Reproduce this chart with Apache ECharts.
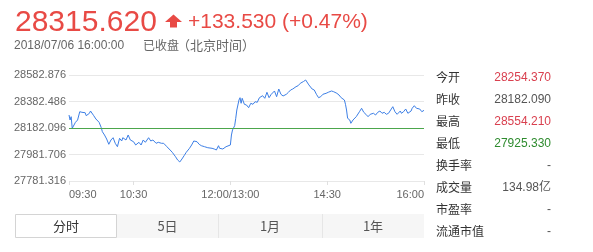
<!DOCTYPE html>
<html>
<head>
<meta charset="utf-8">
<script src="https://cdn.jsdelivr.net/npm/echarts@6/dist/echarts.min.js"></script>
<style>
html,body{margin:0;padding:0;background:#fff;}
#chart{width:593px;height:252px;}
</style>
</head>
<body>
<div id="chart"></div>
<script>
// ---- data ----
const times = ["09:30","09:31","09:32","09:33","09:36","09:38","09:40","09:42","09:45","09:46","09:49","09:50","09:53","09:55","09:58","10:00","10:01","10:03","10:05","10:07","10:09","10:11","10:13","10:15","10:17","10:19","10:20","10:23","10:25","10:27","10:30","10:32","10:35","10:37","10:39","10:41","10:44","10:46","10:48","10:51","10:53","10:56","10:58","11:01","11:04","11:06","11:09","11:11","11:13","11:15","11:17","11:19","11:22","11:24","11:26","11:29","11:31","11:33","11:36","11:39","11:43","11:45","11:47","11:49","11:50","11:53","11:56","12:00",
"13:01","13:02","13:04","13:05","13:06","13:08","13:09","13:10","13:11","13:13","13:15","13:17","13:19","13:21","13:23","13:25","13:27","13:28","13:30","13:32","13:34","13:36","13:38","13:41","13:43","13:45","13:47","13:49","13:52","13:54","13:56","13:58","14:01","14:03","14:05","14:08","14:10","14:11","14:13","14:16","14:18","14:20","14:22","14:24","14:26","14:29","14:31","14:34","14:36","14:39","14:41","14:43","14:46","14:47","14:48","14:49","14:51","14:52","14:54","14:55","14:57","15:00","15:02","15:04","15:06","15:08","15:10","15:13","15:15","15:17","15:19","15:21","15:23","15:25","15:27","15:28","15:31","15:33","15:35","15:38","15:39","15:41","15:43","15:45","15:48","15:49","15:51","15:53","15:56","15:58","15:59","16:00"];
const prices = [28280.4,28242.6,28267.6,28179.8,28225.2,28242.6,28305.3,28300.8,28297.8,28275.1,28293.3,28310.6,28275.1,28250.2,28225.2,28184.4,28154.1,28129.2,28098.9,28058.8,28091.4,28108.7,28066.4,28040.7,28104.2,28083.8,28108.7,28091.4,28129.2,28091.4,28078.5,28053.5,28073.9,28053.5,28091.4,28073.9,28108.7,28083.8,28091.4,28066.4,28073.9,28066.4,28066.4,28040.7,28015.7,27998.3,27965.1,27939.9,27925.3,27947.7,27972.6,27998.3,28028.6,28053.5,28083.8,28078.5,28058.8,28048.3,28040.7,28033.1,28028.6,28023.3,28015.7,28048.3,28028.6,28023.3,28040.7,28053.5,
28129.2,28166.9,28199.5,28255.4,28318.2,28393.8,28411.2,28368.9,28406.7,28361.3,28356.0,28335.6,28368.9,28361.3,28381.0,28376.4,28411.2,28401.4,28426.3,28406.7,28452.1,28411.2,28436.9,28461.9,28418.8,28477.0,28436.9,28424.1,28436.9,28452.1,28469.4,28477.0,28494.4,28502.0,28520.1,28533.7,28545.1,28554.2,28507.7,28477.0,28469.4,28436.9,28411.2,28418.8,28436.9,28444.5,28452.1,28461.9,28456.6,28444.5,28431.6,28411.2,28393.8,28361.3,28318.2,28255.4,28242.6,28217.6,28242.6,28235.0,28267.6,28305.3,28331.1,28300.8,28285.7,28267.6,28285.7,28293.3,28280.4,28300.8,28310.6,28293.3,28300.8,28285.7,28293.3,28285.7,28343.2,28305.3,28285.7,28310.6,28293.3,28305.3,28325.8,28293.3,28310.6,28331.1,28350.7,28331.1,28325.8,28305.3,28293.3,28315.62];
const prevClose = 28182.09;
const yMin = 27781.316, yMax = 28582.876, yStep = 200.39;
const xTickTimes = ["09:30","10:30","12:00","14:30","16:00"];
const xTickLabels = ["09:30","10:30","12:00/13:00","14:30","16:00"];
const infoLabels = ["今开","昨收","最高","最低","换手率","成交量","市盈率","流通市值"];
const infoValues = ["28254.370","28182.090","28554.210","27925.330","-","134.98亿","-","-"];
const infoColors = ["#d9404f","#555555","#d9404f","#2e8b2e","#555555","#555555","#555555","#555555"];
const tabs = ["分时","5日","1月","1年"];
const headPrice = "28315.620";
const headChange = "+133.530 (+0.47%)";
const headDate = "2018/07/06 16:00:00";

// trading-minute categories
const cats = [];
function pad(n){return (n<10?'0':'')+n;}
for (let m = 9*60+30; m <= 12*60; m++) cats.push(pad(Math.floor(m/60))+':'+pad(m%60));
for (let m = 13*60+1; m <= 16*60; m++) cats.push(pad(Math.floor(m/60))+':'+pad(m%60));
const tickIdx = xTickTimes.map(t => cats.indexOf(t));

const chart = echarts.init(document.getElementById('chart'), null, {renderer:'canvas'});
const red = '#e84a45';
const graphics = [
  {type:'text', left:15, top:8, style:{text:headPrice, fill:red, font:'30px "Liberation Sans", Arial, sans-serif'}},
  {type:'polygon', shape:{points:[[165,22],[173.5,14.5],[182,22],[177,22],[177,27.5],[170,27.5],[170,22]]}, style:{fill:red}},
  {type:'text', left:188, top:12, style:{text:headChange, fill:red, font:'21px "Liberation Sans", Arial, sans-serif'}},
  {type:'text', left:14, top:40, style:{text:headDate, fill:'#666', font:'12px "Liberation Sans", Arial, sans-serif'}},
  {type:'text', left:143, top:39, style:{text:'已收盘', fill:'#666', font:'12px "Noto Sans CJK SC", sans-serif'}},
  {type:'text', left:177, top:38.5, style:{text:'（北京时间）', fill:'#666', font:'13px "Noto Sans CJK SC", sans-serif'}}
];
infoLabels.forEach((l,i) => {
  const y = 77.5 + i*22;
  graphics.push({type:'text', x:436, y:y, style:{text:l, fill:'#333', font:'12px "Noto Sans CJK SC", sans-serif', verticalAlign:'middle'}});
  graphics.push({type:'text', x:551, y:y, style:{text:infoValues[i], fill:infoColors[i], font:'12px "Liberation Sans", Arial, "Noto Sans CJK SC", sans-serif', align:'right', verticalAlign:'middle'}});
});
const tabX = [15,117,218,322,424];
graphics.push({type:'rect', shape:{x:117, y:214, width:307, height:24}, style:{fill:'#f6f6f6'}});
for (let i=2;i<4;i++) graphics.push({type:'line', shape:{x1:tabX[i]+0.5,y1:214,x2:tabX[i]+0.5,y2:238}, style:{stroke:'#e6e6e6', lineWidth:1}});
graphics.push({type:'rect', shape:{x:15.5, y:214.5, width:101, height:23}, style:{fill:'#fff', stroke:'#d4d4d4', lineWidth:1}});
tabs.forEach((t,i) => {
  graphics.push({type:'text', x:(tabX[i]+tabX[i+1])/2, y:226.5, style:{text:t, fill:i===0?'#333':'#555', font:'13px "Noto Sans CJK SC", sans-serif', align:'center', verticalAlign:'middle'}});
});

chart.setOption({
  animation:false,
  backgroundColor:'#fff',
  grid:{left:69, right:169, top:75, bottom:71, containLabel:false},
  xAxis:{
    type:'category', data:cats, boundaryGap:false,
    axisLine:{show:false},
    axisTick:{show:true, length:4, interval:(i)=>tickIdx.includes(i), lineStyle:{color:'#e0e0e0'}},
    axisLabel:{interval:(i)=>tickIdx.includes(i), color:'#666', fontSize:11, fontFamily:'"Liberation Sans", Arial, sans-serif', margin:8,
      alignMinLabel:'left', alignMaxLabel:'right',
      formatter:(v)=>{const k=xTickTimes.indexOf(v); return k>=0?xTickLabels[k]:'';}},
    splitLine:{show:false}
  },
  yAxis:{
    type:'value', min:yMin, max:yMax, interval:yStep, scale:true,
    axisLine:{show:false}, axisTick:{show:false},
    axisLabel:{color:'#666', fontSize:11, fontFamily:'"Liberation Sans", Arial, sans-serif', margin:3, formatter:(v)=>v.toFixed(3)},
    splitLine:{lineStyle:{color:'#e8e8e8'}}
  },
  series:[{
    type:'line', data:times.map((t,i)=>[t,prices[i]]), showSymbol:false, symbol:'none',
    lineStyle:{color:'#3d7fe6', width:1}, itemStyle:{color:'#3d7fe6'},
    markLine:{silent:true, symbol:'none', label:{show:false}, lineStyle:{color:'#4ca64c', width:1, type:'solid'}, data:[{yAxis:prevClose}]}
  }],
  graphic:graphics
});
</script>
</body>
</html>
